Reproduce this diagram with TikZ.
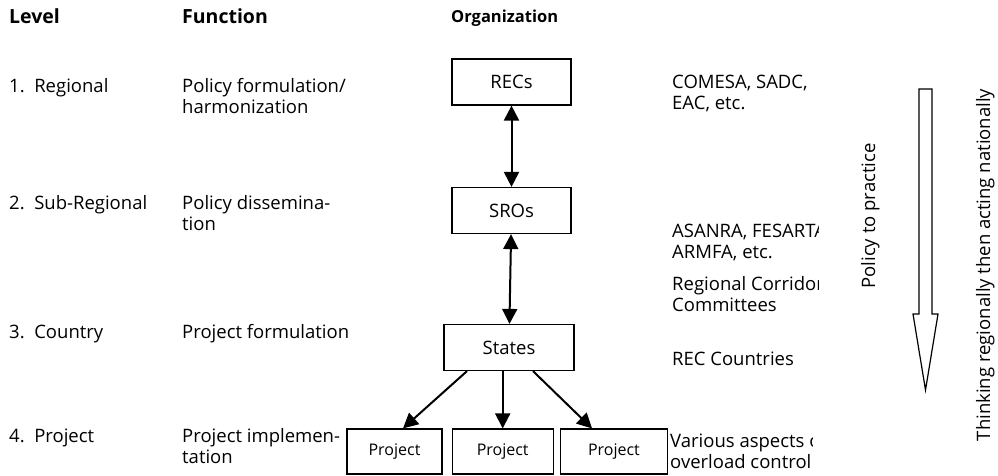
\documentclass[tikz,border=0pt]{standalone}
\usepackage{fontspec}
\setmainfont{Open Sans}
\usetikzlibrary{positioning, arrows.meta}
\tikzset{Box style/.style={line width=1.2pt, draw=black, rectangle, align=center, minimum height=46pt, inner sep=0pt, font=\fontsize{18.5}{21}\selectfont}}
\tikzset{Small box/.style={Box style, minimum height=45pt, font=\fontsize{16}{19}\selectfont}}
\tikzset{Text style/.style={anchor=base west, align=left, inner sep=0pt, font=\fontsize{18.5}{21}\selectfont}}
\tikzset{Head style/.style={anchor=base west, inner sep=0pt, font=\bfseries\fontsize{19.5}{22}\selectfont}}
\tikzset{Side style/.style={anchor=base, rotate=90, inner sep=0pt, font=\fontsize{18.5}{21}\selectfont}}
\tikzset{
	>={Triangle[length=15pt, width=15pt]}, % puntas grandes
	Link style/.style={line width=2pt},
}

\begin{document}
\begin{tikzpicture}[x=1pt, y=-1pt]
        \useasboundingbox (0,0) rectangle (998,475);

        % headings
        \node[Head style] (h_level) at (9,23) {Level};
        \node[Head style] (h_function) at (182,23) {Function};
        \node[Head style, font=\bfseries\fontsize{16.5}{19}\selectfont] (h_org) at (451,22) {Organization};

        % levels (two-line texts are placed at their last baseline)
        \node[Text style] (regional) at (9,92) {1.\ \ Regional};
        \node[Text style] (subregional) at (9,209) {2.\ \ Sub-Regional};
        \node[Text style] (country) at (9,338) {3.\ \ Country};
        \node[Text style] (project) at (9,442) {4.\ \ Project};

        % functions
        \node[Text style] (f_regional) at (182,113) {Policy formulation/\\harmonization};
        \node[Text style] (f_subregional) at (182,230) {Policy dissemina-\\tion};
        \node[Text style] (f_country) at (182,338) {Project formulation};
        \node[Text style] (f_project) at (182,463) {Project implemen-\\tation};

        % organization
        \node[Box style, minimum width=119pt] (recs) at (511.5,82) {RECs};
        \node[Box style, minimum width=119pt] (sros) at (511.5,210.5) {SROs};
        \node[Box style, minimum width=130pt] (states) at (509,347.5) {States};
        \node[Small box, minimum width=95pt] (project_a) at (394.5,451.5) {Project};
        \node[Small box, minimum width=101pt, right=9pt of project_a] (project_b) {Project};
        \node[Small box, minimum width=107pt, right=6pt of project_b] (project_c) {Project};

        \draw[Link style, <->] (recs) -- (sros);
        \draw[Link style, <->] (sros) -- (states);
        \draw[Link style, ->] (states.south -| 467,0) -- (project_a.north -| 403,0);
        \draw[Link style, ->] (states.south -| project_b) -- (project_b);
        \draw[Link style, ->] (states.south -| 533,0) -- (project_c.north -| 592,0);

        % examples
        \begin{scope}
            \clip (660,60) rectangle (818,380);
            \node[Text style] (e_recs) at (672,109) {COMESA, SADC,\\EAC, etc.};
            \node[Text style] (e_sros) at (672,258) {ASANRA, FESARTA,\\ARMFA, etc.};
            \node[Text style] (e_corridor) at (672,311) {Regional Corridor\\Committees};
            \node[Text style] (e_states) at (672,365) {REC Countries};
        \end{scope}
        \begin{scope}
            \clip (660,420) rectangle (812,475);
            \node[Text style] (e_project) at (670,468) {Various aspects of\\overload control};
        \end{scope}

        % policy to practice
        \draw[line width=1.2pt, -] (919,89) -- (932,89) -- (932,314) -- (938,314) -- (925.5,390)
              -- (913,314) -- (919,314) -- cycle;
        \node[Side style] (practice) at (875,216) {Policy to practice};
        \node[Side style] (thinking) at (990,265) {Thinking regionally then acting nationally};
\end{tikzpicture}
\end{document}
